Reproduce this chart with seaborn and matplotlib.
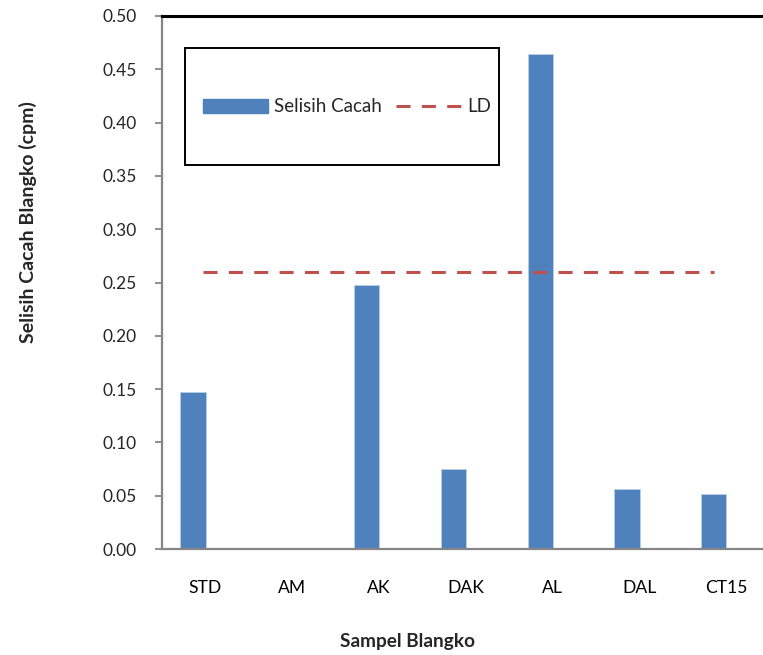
import matplotlib
matplotlib.use("Agg")
import matplotlib.pyplot as plt
from matplotlib.patches import Rectangle, Patch
from matplotlib.lines import Line2D
import seaborn as sns
import pandas as pd
import numpy as np

categories = ["STD", "AM", "AK", "DAK", "AL", "DAL", "CT15"]
selisih_cacah = [0.147, 0.0, 0.248, 0.075, 0.464, 0.056, 0.052]
ld_value = 0.26
y_ticks = [0.00, 0.05, 0.10, 0.15, 0.20, 0.25, 0.30, 0.35, 0.40, 0.45, 0.50]

sns.set_theme(style="white")
plt.rcParams["font.family"] = ["Lato", "DejaVu Sans"]

W, H = 763, 655
fig = plt.figure(figsize=(W / 100, H / 100), dpi=100)
cat_w = 86.8
ax_left, ax_top, ax_bottom = 162, 16, 549
ax = fig.add_axes([ax_left / W, 1 - ax_bottom / H, 7 * cat_w / W, (ax_bottom - ax_top) / H])

df = pd.DataFrame({"cat": categories, "val": selisih_cacah})
bar_color = "#4F81BD"
sns.barplot(data=df, x="cat", y="val", order=categories, color=bar_color,
            width=0.29, saturation=1, ax=ax, edgecolor="#B9CDE5", linewidth=0.6)
offset = 0.143
for p in ax.patches:
    p.set_x(p.get_x() - offset)

# LD line
ax.plot([0 - 0.03, len(categories) - 1 - offset], [ld_value, ld_value],
        color="#C0504D", linewidth=2.2, linestyle=(0, (4.6, 3.7)))

ax.set_xlim(-0.5, len(categories) - 0.5)
ax.set_ylim(0, 0.5)
ax.set_yticks(y_ticks)
ax.set_yticklabels([f"{v:.2f}" for v in y_ticks])
ax.set_xticks(np.arange(len(categories)))
ax.set_xticklabels(categories)
ax.set_xticks(np.arange(len(categories)) - 0.5, minor=True)
ax.tick_params(axis="x", which="major", length=0, pad=22, labelsize=12.6, colors="black")
ax.tick_params(axis="x", which="minor", length=5, width=1.3, color="#868686", direction="out")
ax.tick_params(axis="y", length=5, width=1.3, color="#868686", direction="out", pad=13,
               labelsize=12.5, left=True)
ax.set_xlabel("")
ax.set_ylabel("")

for s in ["left", "bottom"]:
    ax.spines[s].set_color("#868686")
    ax.spines[s].set_linewidth(1.6)
ax.spines["top"].set_color("black")
ax.spines["top"].set_linewidth(2.2)
ax.spines["right"].set_visible(False)

# axis titles
fig.text(408 / W, 1 - 641 / H, "Sampel Blangko", ha="center", va="center",
         fontsize=13.7, fontweight="bold")
fig.text(28 / W, 1 - 222 / H, "Selisih Cacah Blangko (cpm)", ha="center", va="center",
         rotation=90, fontsize=14, fontweight="bold")

# legend
box = Rectangle((185 / W, 1 - 165 / H), (499 - 185) / W, (165 - 48) / H,
                transform=fig.transFigure, fill=True, facecolor="white",
                edgecolor="black", linewidth=1.4, zorder=5)
fig.patches.append(box)
handles = [Patch(facecolor=bar_color, edgecolor=bar_color),
           Line2D([0], [0], color="#C0504D", linewidth=2.2, linestyle=(0, (4.6, 3.7)))]
leg = fig.legend(handles, ["Selisih Cacah", "LD"], loc="center",
                 bbox_to_anchor=(347 / W, 1 - 107 / H), ncol=2, frameon=False,
                 fontsize=13.5, handlelength=3.47, handleheight=0.75, handletextpad=0.32,
                 columnspacing=0.75)
leg.set_zorder(6)

fig.savefig("out.png", dpi=100)
